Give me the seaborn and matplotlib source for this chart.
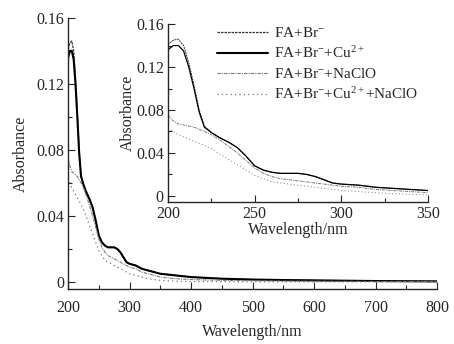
import matplotlib
matplotlib.use("Agg")
import matplotlib.pyplot as plt
import seaborn as sns
from matplotlib.ticker import MultipleLocator, FuncFormatter

sns.set_style("ticks")
plt.rcParams["font.family"] = ["Liberation Serif", "DejaVu Serif"]
plt.rcParams["mathtext.fontset"] = "custom"
plt.rcParams["mathtext.rm"] = "Liberation Serif"
plt.rcParams["mathtext.it"] = "Liberation Serif:italic"

wavelength = [200, 203, 206, 209, 212, 215, 218, 221, 225, 230, 235, 240, 245, 250, 255,
              260, 265, 270, 275, 280, 285, 290, 295, 300, 310, 320, 330, 340, 350, 375,
              400, 450, 500, 550, 600, 650, 700, 750, 800]
fa_br = [0.141, 0.145, 0.146, 0.140, 0.124, 0.103, 0.080, 0.065, 0.059, 0.054, 0.050, 0.045,
         0.037, 0.028, 0.024, 0.022, 0.021, 0.021, 0.021, 0.020, 0.018, 0.015, 0.012, 0.011,
         0.010, 0.008, 0.007, 0.006, 0.005, 0.004, 0.003, 0.002, 0.0015, 0.0012, 0.001,
         0.0008, 0.0006, 0.0005, 0.0004]
fa_br_cu = [0.136, 0.140, 0.140, 0.135, 0.120, 0.100, 0.078, 0.064, 0.059, 0.054, 0.050, 0.045,
            0.037, 0.028, 0.024, 0.022, 0.021, 0.021, 0.021, 0.020, 0.018, 0.015, 0.012, 0.011,
            0.010, 0.008, 0.007, 0.006, 0.005, 0.004, 0.003, 0.002, 0.0015, 0.0012, 0.001,
            0.0008, 0.0006, 0.0005, 0.0004]
fa_br_naclo = [0.075, 0.070, 0.067, 0.066, 0.065, 0.064, 0.062, 0.060, 0.057, 0.052, 0.046,
               0.040, 0.033, 0.026, 0.021, 0.018, 0.016, 0.015, 0.014, 0.013, 0.012, 0.011,
               0.010, 0.009, 0.008, 0.006, 0.005, 0.004, 0.003, 0.002, 0.0015, 0.001, 0.0008,
               0.0006, 0.0005, 0.0004, 0.0003, 0.0003, 0.0002]
fa_br_cu_naclo = [0.063, 0.060, 0.057, 0.055, 0.053, 0.051, 0.049, 0.047, 0.044, 0.039, 0.034,
                  0.029, 0.024, 0.019, 0.016, 0.013, 0.012, 0.011, 0.010, 0.009, 0.008, 0.007,
                  0.006, 0.005, 0.004, 0.003, 0.002, 0.0015, 0.001, 0.0005, 0.0003, 0.0002,
                  0.0001, 0.0001, 0.0001, 0.0001, 0.0001, 0.0001, 0.0001]
labels = ["FA+Br$^{-}$", "FA+Br$^{-}$+Cu$^{2+}$", "FA+Br$^{-}$+NaClO",
          "FA+Br$^{-}$+Cu$^{2+}$+NaClO"]

series = [fa_br, fa_br_cu, fa_br_naclo, fa_br_cu_naclo]
styles = [
    dict(color="#333333", linestyle=(0, (2, 0.8))),
    dict(color="black", linestyle="-"),
    dict(color="#777777", linestyle=(0, (3, 1, 1, 1))),
    dict(color="#777777", linestyle=(0, (1, 2.5))),
]
main_widths = [0.9, 1.5, 0.8, 0.9]
inset_widths = [0.7, 0.9, 0.7, 0.7]

fig = plt.figure(figsize=(4.54, 3.44), dpi=100)
ax = fig.add_axes([0.150, 0.160, 0.813, 0.788])
ins = fig.add_axes([0.370, 0.413, 0.573, 0.517])

fmt = FuncFormatter(lambda v, p: f"{v:g}")

for a, widths in ((ax, main_widths), (ins, inset_widths)):
    for s, st, lab, lw in zip(series, styles, labels, widths):
        sns.lineplot(x=wavelength, y=s, ax=a, label=lab if a is ax else None,
                     linewidth=lw, **st)
    sns.despine(ax=a)
    a.tick_params(direction="in", which="major", length=5, width=0.8, labelsize=11.5, pad=3)
    a.tick_params(direction="in", which="minor", length=3, width=0.8)
    for sp in ("left", "bottom"):
        a.spines[sp].set_linewidth(1.0)
    a.yaxis.set_major_locator(MultipleLocator(0.04))
    a.yaxis.set_minor_locator(MultipleLocator(0.02))
    a.yaxis.set_major_formatter(fmt)

ax.tick_params(axis="x", which="major", pad=8)
ax.set_ylabel("Absorbance", fontsize=11.5, labelpad=5)
ax.set_xlabel("Wavelength/nm", fontsize=11.5, labelpad=6)
ins.set_ylabel("Absorbance", fontsize=11.5, labelpad=0)
ins.set_xlabel("Wavelength/nm", fontsize=11.5, labelpad=0)

ax.set_xlim(200, 800)
ax.set_ylim(-0.0042, 0.16)
ax.xaxis.set_major_locator(MultipleLocator(100))
ax.xaxis.set_minor_locator(MultipleLocator(50))

ins.set_xlim(200, 350)
ins.set_ylim(-0.0056, 0.16)
ins.xaxis.set_major_locator(MultipleLocator(50))
ins.xaxis.set_minor_locator(MultipleLocator(25))
ins.patch.set_alpha(0)

ax.get_legend().remove()
handles, labs = ax.get_legend_handles_labels()
fig.legend(handles, labs, loc="upper left", bbox_to_anchor=(0.465, 0.942),
           frameon=False, fontsize=11, handlelength=3.3, handletextpad=0.4,
           labelspacing=0.36, borderaxespad=0)

fig.savefig("out.png", dpi=100)
